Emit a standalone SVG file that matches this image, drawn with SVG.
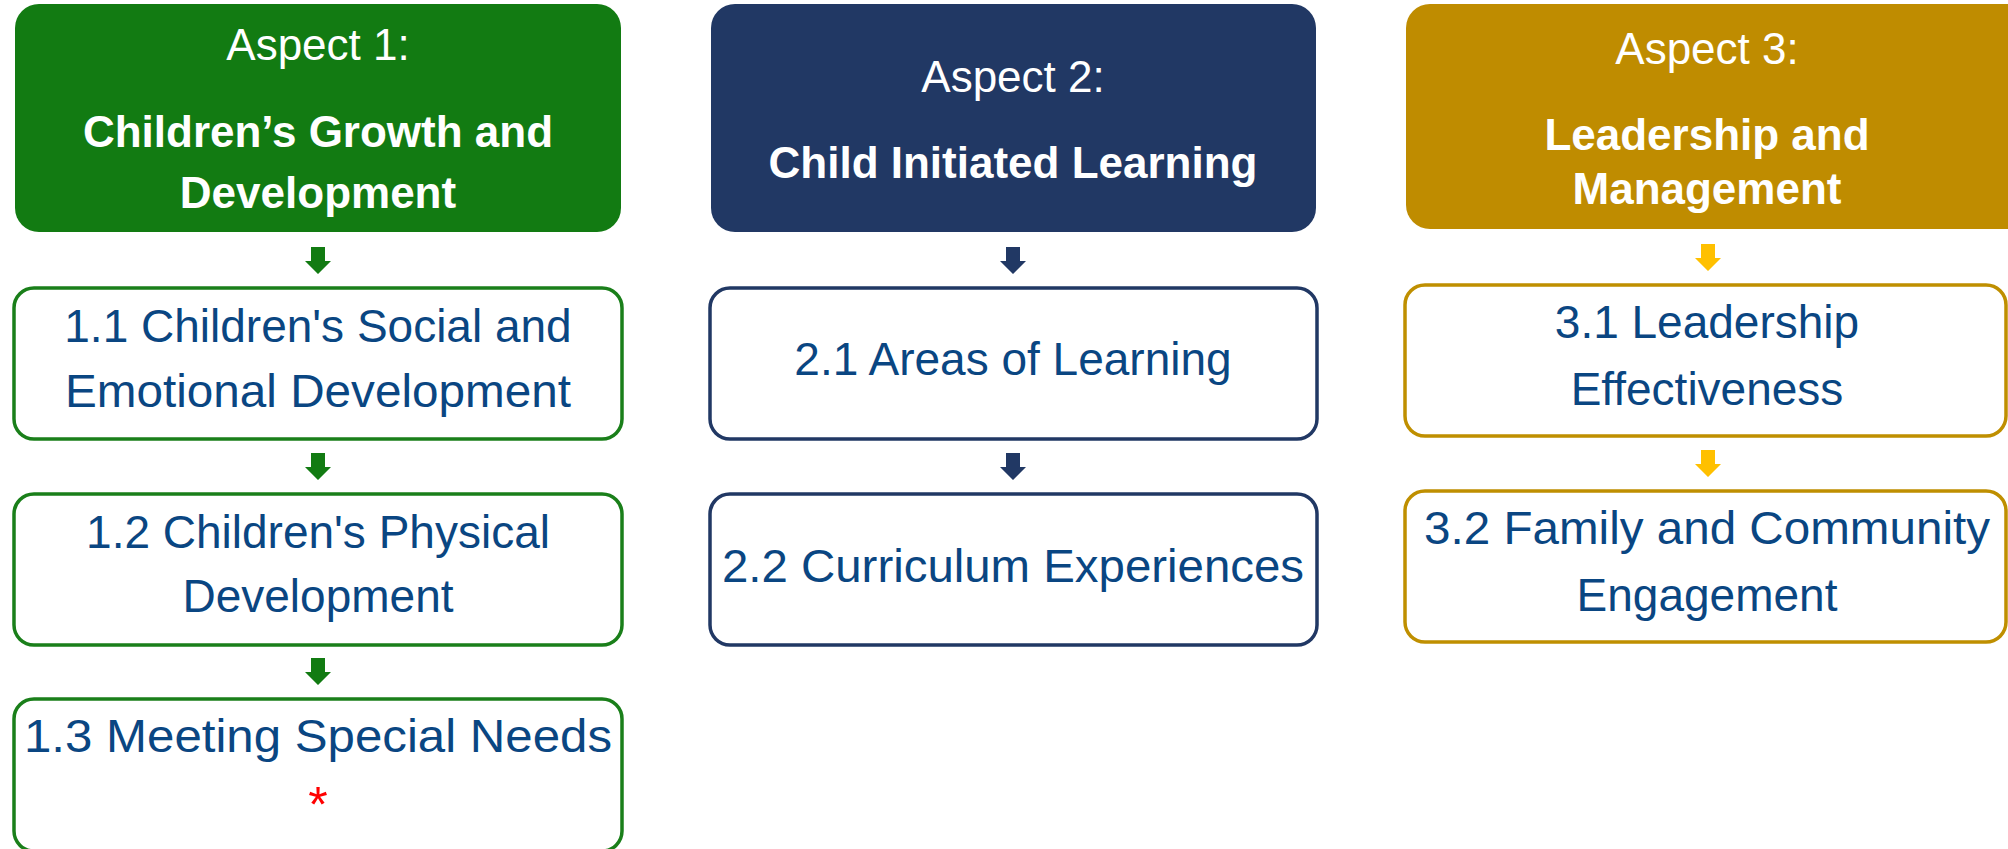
<svg xmlns="http://www.w3.org/2000/svg" width="2008" height="849" viewBox="0 0 2008 849">
  <style>
    .hdr { font-family: "Liberation Sans", Arial, sans-serif; font-size: 44px; fill: #ffffff; text-anchor: middle; }
    .hdr-b { font-weight: bold; }
    .sub { font-family: "Liberation Sans", Arial, sans-serif; font-size: 46px; fill: #0A4682; text-anchor: middle; }
    .box { fill: #ffffff; stroke-width: 3.5; }
    .g-fill { fill: #127B12; }
    .n-fill { fill: #213864; }
    .y-fill { fill: #BF8C00; }
    .g-line { stroke: #1A7F1A; }
    .n-line { stroke: #213864; }
    .y-line { stroke: #BF8F00; }
    .arr-g { fill: #127B12; }
    .arr-n { fill: #213864; }
    .arr-y { fill: #FFC000; }
  </style>
  <defs>
    <!-- block arrow pointing down, origin at top centre -->
    <path id="down-arrow" d="M-7,0 H7 V14 H13 L0,27 L-13,14 H-7 Z"/>
  </defs>

  <rect width="2008" height="849" fill="#ffffff"/>

  <!-- Column 1 -->
  <g id="aspect1">
    <rect class="g-fill" x="15" y="4" width="606" height="228" rx="24"/>
    <text class="hdr" x="318" y="60">Aspect 1:</text>
    <text class="hdr hdr-b" x="318" y="147">Children’s Growth and</text>
    <text class="hdr hdr-b" x="318" y="208">Development</text>
  </g>
  <g id="item-1-1">
    <rect class="box g-line" x="14" y="288" width="608" height="151" rx="20"/>
    <text class="sub" x="318" y="342">1.1 Children's Social and</text>
    <text class="sub" x="318" y="407" textLength="506" lengthAdjust="spacingAndGlyphs">Emotional Development</text>
  </g>
  <g id="item-1-2">
    <rect class="box g-line" x="14" y="494" width="608" height="151" rx="20"/>
    <text class="sub" x="318" y="548">1.2 Children's Physical</text>
    <text class="sub" x="318" y="612">Development</text>
  </g>
  <g id="item-1-3">
    <rect class="box g-line" x="14" y="699" width="608" height="152" rx="20"/>
    <text class="sub" x="318" y="752" textLength="588" lengthAdjust="spacingAndGlyphs">1.3 Meeting Special Needs</text>
    <text class="sub" x="318" y="822" style="fill:#FF0000;font-size:50px">*</text>
  </g>

  <!-- Column 2 -->
  <g id="aspect2">
    <rect class="n-fill" x="711" y="4" width="605" height="228" rx="24"/>
    <text class="hdr" x="1013" y="92">Aspect 2:</text>
    <text class="hdr hdr-b" x="1013" y="178">Child Initiated Learning</text>
  </g>
  <g id="item-2-1">
    <rect class="box n-line" x="710" y="288" width="607" height="151" rx="20"/>
    <text class="sub" x="1013" y="375">2.1 Areas of Learning</text>
  </g>
  <g id="item-2-2">
    <rect class="box n-line" x="710" y="494" width="607" height="151" rx="20"/>
    <text class="sub" x="1013" y="582" textLength="582" lengthAdjust="spacingAndGlyphs">2.2 Curriculum Experiences</text>
  </g>

  <!-- Column 3 -->
  <g id="aspect3">
    <rect class="y-fill" x="1406" y="4" width="626" height="225" rx="24"/>
    <text class="hdr" x="1707" y="64">Aspect 3:</text>
    <text class="hdr hdr-b" x="1707" y="150">Leadership and</text>
    <text class="hdr hdr-b" x="1707" y="204">Management</text>
  </g>
  <g id="item-3-1">
    <rect class="box y-line" x="1405" y="285" width="601" height="151" rx="20"/>
    <text class="sub" x="1707" y="338">3.1 Leadership</text>
    <text class="sub" x="1707" y="405">Effectiveness</text>
  </g>
  <g id="item-3-2">
    <rect class="box y-line" x="1405" y="491" width="601" height="151" rx="20"/>
    <text class="sub" x="1707" y="544" textLength="566" lengthAdjust="spacingAndGlyphs">3.2 Family and Community</text>
    <text class="sub" x="1707" y="611">Engagement</text>
  </g>

  <!-- Connectors -->
  <g id="connectors">
    <use href="#down-arrow" class="arr-g" x="318" y="247"/>
    <use href="#down-arrow" class="arr-g" x="318" y="453"/>
    <use href="#down-arrow" class="arr-g" x="318" y="658"/>
    <use href="#down-arrow" class="arr-n" x="1013" y="247"/>
    <use href="#down-arrow" class="arr-n" x="1013" y="453"/>
    <use href="#down-arrow" class="arr-y" x="1708" y="244"/>
    <use href="#down-arrow" class="arr-y" x="1708" y="450"/>
  </g>
</svg>
